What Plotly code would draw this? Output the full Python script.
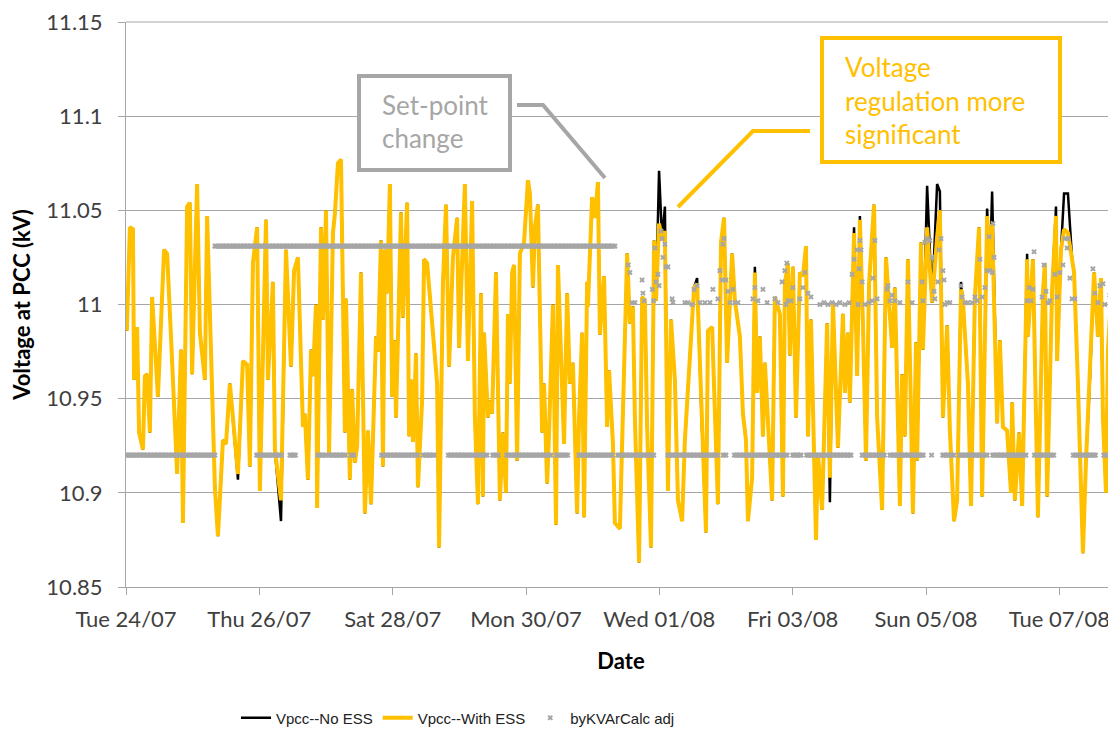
import pandas as pd
import plotly.graph_objects as go

# ---------------- data ----------------
START = pd.Timestamp("2018-07-24 00:00")
END_HOURS = 356.4

# Vpcc -- With ESS : vertices (hours since Tue 24/07 00:00, kV)
ess_hours = [
    0.3, 1.4, 2.5, 2.9, 4.0, 4.7, 6.1, 6.8, 7.6, 8.6, 9.4, 10.1, 11.5, 13.7, 14.8, 16.2, 18.4, 19.8, 20.5, 22.0,
    23.0, 23.8, 25.6, 26.6, 28.4, 29.2, 30.6, 32.0, 33.1, 34.9, 36.0, 37.4, 40.3, 42.1, 43.6, 44.6, 45.7, 47.2, 48.2, 50.4,
    51.1, 52.9, 53.6, 55.8, 57.6, 59.4, 60.5,
    61.9, 63.7, 64.4, 65.5, 66.6, 67.3, 68.4, 68.8, 70.2, 70.9, 72.0, 73.1, 74.5, 75.2, 76.3, 77.4, 78.8, 79.2, 80.6, 81.4,
    82.4, 83.2, 84.6, 86.0, 87.1, 88.2, 90.0, 90.7, 91.8, 92.5, 93.2, 94.0, 95.0, 95.8, 96.8, 97.2, 99.0, 99.7, 101.2, 101.9,
    102.6, 103.3, 104.4, 105.1, 106.6, 107.3, 108.4, 110.5, 112.0, 112.7, 114.1, 115.2, 116.3, 117.7, 119.2, 119.9,
    122.0, 123.1, 124.6, 125.6, 126.7, 127.8, 128.5, 128.9, 130.3, 131.0, 131.8, 133.2, 134.6, 135.7, 136.8, 137.5, 138.2, 139.0, 139.7, 140.8,
    141.8, 143.3, 144.7, 145.4, 146.5, 147.2, 148.3, 149.8, 150.5, 151.6, 152.3, 153.7, 154.8, 155.5, 156.6, 157.7, 158.8, 159.8, 160.9, 162.4,
    163.1, 164.2, 164.9, 166.0, 166.3, 167.8, 168.8, 169.9, 170.6, 172.1, 173.2, 173.9, 175.3, 176.0, 177.8,
    178.9, 180.4, 181.4, 182.5, 183.2, 184.7, 185.8, 186.8, 187.6, 189.0, 190.1, 190.8, 191.9, 193.0, 194.0, 195.1, 196.2, 197.6, 198.7, 200.2,
    201.2, 203.0, 204.5, 205.6, 207.0, 208.8, 209.5, 211.0, 213.1, 214.2, 215.3, 216.4, 218.2, 219.2, 221.0, 222.1, 223.2, 223.9, 225.4, 226.4,
    227.2, 228.2, 229.3, 230.0, 232.6, 233.6, 235.4, 236.5,
    237.2, 238.3, 239.0, 240.1, 241.2, 242.6, 243.7, 244.8, 245.5, 246.6, 248.4, 249.1, 250.6, 252.4, 253.4, 254.5, 256.3, 258.1, 258.8, 259.9,
    260.6, 262.1, 263.2, 264.2, 265.3, 266.4, 267.5, 269.3, 270.4, 272.2, 273.6, 275.8, 276.8, 278.6, 279.4, 280.4, 281.5, 283.3, 284.4, 284.8,
    286.2, 286.9, 288.4, 290.2, 292.0, 293.0, 294.1, 295.6,
    296.6, 298.1, 299.2, 300.6, 301.3, 303.1, 304.2, 305.6, 307.1, 308.2, 310.0, 311.0, 311.8, 312.8, 313.6, 314.6, 315.7, 317.2, 318.6, 319.0,
    320.0, 321.5, 322.6, 324.4, 324.7, 326.5, 327.2, 328.3, 330.1, 330.8, 331.6, 333.4, 334.8, 335.2, 336.6, 337.7, 339.1, 340.6, 341.3, 342.7,
    344.5, 345.6, 347.0, 348.5, 349.9, 351.0, 351.7, 352.8, 353.5, 355.0, 356.4, 358.0,
]
ess_kv = [
    10.986, 11.041, 11.040, 10.960, 10.988, 10.932, 10.923, 10.962, 10.963, 10.932, 11.004, 10.985, 10.951, 11.029, 11.027, 10.983, 10.910, 10.976, 10.884, 11.052,
    11.054, 10.963, 11.064, 10.985, 10.960, 11.047, 10.979, 10.903, 10.877, 10.928, 10.926, 10.958, 10.910, 10.970, 10.968, 10.914, 11.022, 11.041, 10.901, 11.045,
    10.960, 11.012, 10.923, 10.896, 11.029, 10.967, 11.018,
    11.025, 10.935, 10.942, 10.907, 10.976, 10.962, 11.000, 10.892, 11.041, 10.992, 11.050, 10.921, 11.038, 11.048, 11.075, 11.077, 10.932, 11.003, 10.907, 10.955,
    10.916, 10.925, 11.017, 10.889, 10.933, 10.894, 10.983, 10.975, 11.034, 10.914, 11.029, 11.006, 11.064, 10.951, 10.981, 10.940, 11.049, 10.993, 11.054, 10.930,
    10.960, 10.927, 10.974, 10.903, 10.949, 11.024, 11.022, 10.985, 10.958, 10.871, 11.011, 11.053, 10.967, 11.025, 11.046, 10.977,
    11.064, 10.970, 11.055, 10.940, 10.894, 11.006, 10.898, 10.985, 10.940, 10.949, 10.942, 11.017, 10.896, 10.932, 10.900, 10.995, 10.958, 11.017, 11.021, 10.917,
    11.027, 11.033, 11.066, 11.059, 11.009, 11.041, 11.053, 10.932, 10.958, 10.905, 10.932, 11.000, 10.883, 11.021, 10.976, 10.926, 11.006, 10.958, 10.969, 10.889,
    10.940, 10.985, 10.887, 11.012, 10.999, 11.057, 11.046, 11.065, 10.984, 11.015, 10.935, 10.965, 10.926, 10.884, 10.881,
    10.948, 11.027, 10.990, 10.999, 10.940, 10.863, 11.004, 11.002, 10.935, 10.871, 11.034, 11.002, 11.043, 11.034, 11.039, 10.901, 10.992, 10.960, 10.896, 10.885,
    10.928, 10.970, 11.009, 11.011, 10.948, 10.879, 10.986, 10.988, 10.894, 11.033, 11.046, 10.969, 11.027, 11.002, 10.983, 10.942, 10.928, 10.885, 10.908, 11.017,
    10.953, 10.983, 10.930, 10.969, 10.896, 11.004, 10.995, 10.898,
    11.011, 11.022, 10.973, 11.020, 10.940, 11.017, 11.015, 11.031, 10.930, 10.992, 10.875, 10.921, 10.891, 10.990, 10.908, 11.001, 10.924, 10.995, 10.953, 10.985,
    10.948, 11.038, 10.962, 11.045, 10.990, 10.917, 11.011, 11.053, 10.940, 10.891, 11.025, 10.977, 11.009, 10.893, 10.963, 10.930, 11.024, 10.889, 10.980, 10.917,
    11.033, 10.976, 11.041, 11.001, 11.036, 11.050, 10.940, 10.989,
    10.933, 10.885, 10.896, 11.008, 11.002, 10.958, 10.893, 11.004, 11.041, 10.898, 11.047, 11.018, 11.043, 10.993, 10.937, 10.981, 10.935, 10.933, 10.900, 10.948,
    10.896, 10.932, 10.893, 11.024, 10.983, 11.024, 10.976, 10.887, 11.006, 11.022, 10.898, 11.008, 11.047, 10.970, 11.029, 11.040, 11.038, 11.024, 11.017, 10.958,
    10.868, 10.917, 10.960, 11.017, 10.983, 11.014, 10.940, 10.900, 10.976, 11.013, 10.958, 10.990,
]

# Vpcc -- No ESS : identical to the ESS trace except at these vertices
no_ess_diff_hours = [40.3, 55.8, 191.9, 194.0, 205.6, 226.4, 253.4, 262.1, 264.2, 288.4,
                     292.0, 293.0, 300.6, 310.0, 311.8, 324.4, 334.8, 337.7, 339.1]
no_ess_diff_kv = [10.907, 10.885, 11.071, 11.052, 11.014, 11.020, 10.895, 11.041, 11.047, 11.063,
                  11.064, 11.060, 11.012, 11.051, 11.060, 11.027, 11.052, 11.059, 11.059]

# byKVArCalc adj : constant-level runs (start h, end h, kV) ...
sp_run_start = [0, 32, 47, 59, 69, 73, 81, 92, 107, 116, 132, 137, 155, 163, 177, 195, 215, 219,
                240, 245, 265, 275, 290, 294, 300, 312, 327, 341, 352]
sp_run_end = [32, 176, 56, 61, 72, 79, 82, 105, 111, 130, 134, 153, 159, 175, 190, 213, 216, 238,
              243, 261, 273, 287, 290, 298, 310, 324, 334, 349, 356]
sp_run_kv = [10.920, 11.031, 10.920, 10.920, 10.920, 10.920, 10.920, 10.920, 10.920, 10.920, 10.920,
             10.920, 10.920, 10.920, 10.920, 10.920, 10.920, 10.920, 10.920, 10.920, 10.920, 10.920,
             10.920, 10.920, 10.920, 10.920, 10.920, 10.920, 10.920]
# ... plus individual points after the set-point change
sp_pt_hours = [180.8, 181.4, 182.2, 183.2, 185.8, 186.1, 186.5, 189.5, 189.9, 190.4, 190.8, 191.5, 191.9, 192.6, 193.0,
               193.3, 194.0, 194.4, 195.1, 196.6, 196.9, 201.2, 202.3, 203.8, 204.5, 205.6, 206.6, 208.4, 210.2, 211.3,
               213.1, 213.8, 214.6, 214.9, 215.3, 216.0, 216.7, 217.4, 218.5, 219.2, 220.3, 225.7, 226.4, 227.5, 229.3,
               230.8, 233.6, 234.7, 236.2, 237.2, 237.6, 237.9, 238.3, 239.4, 240.1, 242.6, 243.7, 244.4, 245.5, 246.6,
               249.8, 251.3, 252.7, 254.2, 255.6, 257.0, 258.8, 260.3, 261.4, 262.1, 263.2, 263.5, 263.9, 264.2, 264.6,
               265.0, 266.0, 267.5, 268.6, 268.9, 269.6, 270.4, 274.0, 274.3, 275.0, 275.8, 276.8, 278.6, 281.5, 283.0,
               286.6, 286.9, 287.6, 288.4, 289.4, 290.2, 290.9, 291.2, 292.3, 292.7, 293.4, 294.1, 294.5, 294.8, 295.6,
               296.6, 300.6, 301.0, 302.0, 303.1, 304.6, 305.6, 306.4, 307.4, 308.2, 309.2, 310.0, 310.7, 311.0, 311.8,
               312.1, 312.5, 324.4, 325.1, 325.8, 326.5, 326.9, 329.8, 330.5, 331.2, 331.9, 332.6, 334.4, 335.2, 336.2,
               337.3, 338.0, 338.8, 339.1, 339.8, 340.6, 341.6, 348.1, 348.8, 349.9, 350.6, 351.7, 352.4, 354.2, 355.3,
               356.0]
sp_pt_kv = [11.021, 11.017, 11.001, 11.001, 11.013, 11.006, 11.002, 11.008, 11.002, 11.030, 11.012, 11.016, 11.010, 11.039, 11.035,
            11.025, 11.032, 11.020, 11.020, 11.003, 11.001, 11.001, 11.001, 11.000, 11.008, 11.010, 11.001, 11.001, 11.001, 11.008,
            11.003, 11.018, 11.013, 11.032, 11.035, 11.013, 11.007, 11.001, 11.008, 11.001, 11.001, 11.003, 11.009, 11.002, 11.008,
            11.001, 11.003, 11.001, 11.012, 11.018, 11.000, 11.022, 11.002, 11.002, 11.009, 11.003, 11.009, 11.017, 11.006, 11.004,
            11.000, 11.001, 11.000, 11.001, 11.000, 11.001, 11.000, 11.001, 11.016, 11.024, 11.029, 11.000, 11.019, 11.034, 11.029,
            11.012, 11.000, 11.001, 11.002, 11.014, 11.034, 11.003, 11.008, 11.010, 11.002, 11.005, 11.002, 11.001, 11.012, 11.001,
            11.012, 11.002, 11.033, 11.035, 11.034, 11.025, 11.007, 11.003, 11.012, 11.029, 11.035, 11.018, 11.013, 11.000, 11.001,
            11.001, 11.010, 11.004, 11.001, 11.001, 11.001, 11.004, 11.002, 11.024, 11.004, 11.009, 11.018, 11.036, 11.018, 11.017,
            11.043, 11.025, 11.002, 11.009, 11.002, 11.008, 11.028, 11.004, 11.021, 11.007, 11.001, 11.002, 11.016, 11.004, 11.017,
            11.021, 11.035, 11.030, 11.035, 11.014, 11.003, 11.003, 11.019, 11.006, 11.001, 11.010, 11.011, 11.000, 11.005, 11.017,
            11.005]

tick_days = ["2018-07-24", "2018-07-26", "2018-07-28", "2018-07-30", "2018-08-01",
             "2018-08-03", "2018-08-05", "2018-08-07"]
tick_labels = ["Tue 24/07", "Thu 26/07", "Sat 28/07", "Mon 30/07", "Wed 01/08",
               "Fri 03/08", "Sun 05/08", "Tue 07/08"]
y_ticks = [10.85, 10.9, 10.95, 11.0, 11.05, 11.1, 11.15]
y_labels = ["10.85", "10.9", "10.95", "11", "11.05", "11.1", "11.15"]

assert len(ess_hours) == len(ess_kv)
assert len(no_ess_diff_hours) == len(no_ess_diff_kv)
assert len(sp_run_start) == len(sp_run_end) == len(sp_run_kv)
assert len(sp_pt_hours) == len(sp_pt_kv)

# ---------------- build series ----------------
def to_time(hours):
    return START + pd.to_timedelta(hours, unit="h")

no_ess_kv = list(ess_kv)
pos = {h: i for i, h in enumerate(ess_hours)}
for h, v in zip(no_ess_diff_hours, no_ess_diff_kv):
    no_ess_kv[pos[h]] = v

sp_hours, sp_kv = [], []
for s, e, v in zip(sp_run_start, sp_run_end, sp_run_kv):
    h = float(s)
    while h <= e + 1e-9:
        sp_hours.append(h)
        sp_kv.append(v)
        h += 0.5
sp_hours += sp_pt_hours
sp_kv += sp_pt_kv

t_ess = to_time(pd.Series(ess_hours))
t_sp = to_time(pd.Series(sp_hours))

GOLD = "#FFC000"
GREY = "#A6A6A6"
TXT = "#404040"
FONT = "Lato"

fig = go.Figure()
fig.add_trace(go.Scatter(x=t_ess, y=no_ess_kv, mode="lines", name="Vpcc--No ESS",
                         line=dict(color="#000000", width=2.5)))
fig.add_trace(go.Scatter(x=t_ess, y=ess_kv, mode="lines", name="Vpcc--With ESS",
                         line=dict(color=GOLD, width=4)))
fig.add_trace(go.Scatter(x=t_sp, y=sp_kv, mode="markers", name="byKVArCalc adj",
                         marker=dict(symbol="x", size=5, color=GREY)))

# ---------------- layout ----------------
# The page body has an 8px margin, so the figure is drawn 8px in from the window corner.
OFF = 8
W, H = 1116 - OFF, 740 - 2 * OFF
PLOT_L, PLOT_R, PLOT_T, PLOT_B = 126, 1116, 22, 587     # plot area in window pixels
L, T = PLOT_L - OFF, PLOT_T - OFF
R = (W + OFF) - PLOT_R
B = (H + OFF) - PLOT_B
PW, PH = PLOT_R - PLOT_L, PLOT_B - PLOT_T


def px(x):
    return (x - PLOT_L) / PW


def py(y):
    return (PLOT_B - y) / PH


shapes = [
    # top border of the plot area (11.15 gridline)
    dict(type="line", xref="paper", yref="paper", x0=0, x1=1, y0=1, y1=1,
         line=dict(color=GREY, width=1), layer="below"),
    dict(type="rect", xref="paper", yref="paper", x0=px(359), x1=px(510), y0=py(170), y1=py(76),
         line=dict(color=GREY, width=4), fillcolor="white", layer="above"),
    dict(type="path", xref="paper", yref="paper",
         path=f"M {px(517)} {py(105)} L {px(543)} {py(105)} L {px(605)} {py(178)}",
         line=dict(color=GREY, width=4)),
    dict(type="rect", xref="paper", yref="paper", x0=px(822), x1=px(1060), y0=py(162), y1=py(38),
         line=dict(color=GOLD, width=4), fillcolor="white", layer="above"),
    dict(type="path", xref="paper", yref="paper",
         path=f"M {px(810)} {py(131)} L {px(753)} {py(131)} L {px(678)} {py(207)}",
         line=dict(color=GOLD, width=4)),
]

annots = []
for txt, xx, yy, col in [("Set-point", 380, 105, GREY), ("change", 380, 138, GREY),
                         ("Voltage", 843, 67, GOLD), ("regulation more", 843, 101, GOLD),
                         ("significant", 843, 134, GOLD)]:
    annots.append(dict(text=txt, xref="paper", yref="paper", x=px(xx), y=py(yy),
                       xanchor="left", yanchor="middle", showarrow=False,
                       font=dict(family=FONT, size=26, color=col)))

fig.update_layout(
    width=W, height=H, margin=dict(l=L, r=R, t=T, b=B, autoexpand=False),
    plot_bgcolor="white", paper_bgcolor="white",
    shapes=shapes, annotations=annots,
    legend=dict(orientation="h", x=px(458), xanchor="center", y=py(718), yanchor="middle",
                font=dict(family="Liberation Sans", size=15, color="#222222"),
                itemwidth=30, bgcolor="rgba(0,0,0,0)"),
    xaxis=dict(type="date", range=[START, to_time(END_HOURS)],
               tickvals=pd.to_datetime(tick_days), ticktext=tick_labels,
               showgrid=False, showline=True, linecolor=GREY, linewidth=1,
               ticks="outside", ticklen=7, tickcolor=GREY, ticklabelstandoff=6,
               tickfont=dict(family=FONT, size=22, color=TXT), automargin=False,
               title=dict(text="<b>Date</b>", font=dict(family=FONT, size=22, color="#000000"), standoff=22),
               zeroline=False),
    yaxis=dict(range=[10.85, 11.15], tickvals=y_ticks, ticktext=y_labels,
               showgrid=True, gridcolor=GREY, gridwidth=1,
               showline=True, linecolor=GREY, linewidth=1,
               ticks="outside", ticklen=7, tickcolor=GREY, ticklabelstandoff=11,
               ticklabeloverflow="allow",
               tickfont=dict(family=FONT, size=22, color=TXT), automargin=False,
               title=dict(text="<b>Voltage at PCC (kV)</b>", font=dict(family=FONT, size=22, color="#000000"),
                          standoff=17),
               zeroline=False),
)

fig.write_html("out.html")
